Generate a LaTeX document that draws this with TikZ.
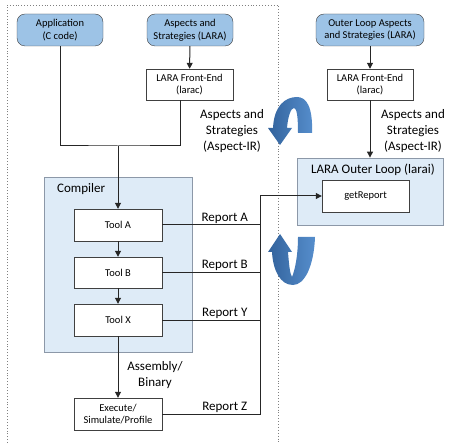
\documentclass[tikz,border=0pt]{standalone}
\usepackage{fontspec}
\setmainfont{Carlito}
\usetikzlibrary{arrows.meta,positioning,calc}
\definecolor{srcfill}{RGB}{157,195,230}
\definecolor{grpfill}{RGB}{222,235,247}
\definecolor{grpline}{RGB}{140,152,168}
\definecolor{loopdark}{RGB}{50,98,156}
\definecolor{looplight}{RGB}{86,142,204}
\newcommand{\boxfont}{\fontsize{10.5}{12.7}\selectfont}
\newcommand{\lblfont}{\fontsize{13}{16}\selectfont}
\tikzset{
  srcbox/.style={draw=black!75,fill=srcfill,rounded corners=8pt,minimum width=86pt,minimum height=32pt,align=center,font=\boxfont,inner sep=1pt},
  toolbox/.style={draw=black!75,fill=white,minimum width=88pt,minimum height=32pt,align=center,font=\boxfont,inner sep=1pt},
  grpbox/.style={draw=grpline,fill=grpfill,line width=0.8pt},
  lbl/.style={align=center,font=\lblfont,inner sep=1pt},
  wire/.style={line width=1pt,draw=black!85}
}
\begin{document}
\begin{tikzpicture}[x=1pt,y=-1pt,>={Triangle[length=6pt,width=6pt]}]
\useasboundingbox (0,0) rectangle (449,443);
% dotted frame round the compile flow
\draw[gray,dotted,line width=0.9pt] (7,443) -- (7,5) -- (278,5) -- (278,443);

% groups
\node[grpbox,minimum width=148pt,minimum height=175pt] (compiler) at (118,264.5) {};
\node[lbl,anchor=base west] at (56,193) {Compiler};
\node[grpbox,minimum width=146pt,minimum height=67pt] (outer) at (370,191.5) {};
\node[lbl,anchor=base] at (373,174) {LARA Outer Loop (larai)};

% inputs
\node[srcbox] (app) at (60,30) {Application\\(C code)};
\node[srcbox] (asp) at (190,30) {Aspects and\\Strategies (LARA)};
\node[srcbox,minimum width=108pt] (oasp) at (370,30) {Outer Loop Aspects\\and Strategies (LARA)};
\node[toolbox,minimum width=87pt,minimum height=31pt] (fe) at (189.5,84.5) {LARA Front-End\\(larac)};
\node[toolbox,minimum width=86pt,minimum height=31pt] (ofe) at (370,84.5) {LARA Front-End\\(larac)};

% tools
\node[toolbox] (toolA) at (118,225) {Tool A};
\node[toolbox,minimum height=31pt] (toolB) at (118,272.5) {Tool B};
\node[toolbox] (toolX) at (118,320) {Tool X};
\node[toolbox] (exec) at (118,414) {Execute/\\Simulate/Profile};
\node[toolbox,minimum width=87pt] (getrep) at (365.5,196) {getReport};

\coordinate (merge) at (118,146);
\coordinate (bus) at (260,196);

% connectors
\draw[wire,->] (asp) -- (fe);
\draw[wire] (app.south) |- (merge) -| ([xshift=-9.5pt]fe.south);
\draw[wire,->] (merge) -- (toolA);
\draw[wire,->] (toolA) -- (toolB);
\draw[wire,->] (toolB) -- (toolX);
\draw[wire,->] (toolX) -- (exec);
\draw[wire,->] (oasp) -- (ofe);
\draw[wire,->] (ofe) -- (outer);
\foreach \t/\r in {A/A,B/B,X/Y}
  \draw[wire] (tool\t.east) -- node[lbl,above,pos=.64] {Report \r} (tool\t.east -| bus);
\draw[wire,->] (exec.east) -- node[lbl,above,pos=.64] {Report Z} (exec.east -| bus) -- (bus) -- (getrep.west);

% labels
\node[lbl] (airl) at (232,131) {Aspects and\\Strategies\\(Aspect-IR)};
\node[lbl] (airr) at (413,131) {Aspects and\\Strategies\\(Aspect-IR)};
\node[lbl] (asm) at (155,375.5) {Assembly/\\Binary};

% loop arrows
\shade[left color=loopdark,right color=looplight]
  (312,133) .. controls (313,106) and (306,97) .. (297,97)
  .. controls (285,97) and (274,106) .. (273,128)
  -- (268,128) -- (280,145) -- (292,128) -- (287,128)
  .. controls (288,116) and (291,108) .. (294,108)
  .. controls (297,108) and (298,118) .. (298,133) -- cycle;
\shade[left color=loopdark,right color=looplight]
  (315,237) .. controls (314,265) and (305,285) .. (293,285)
  .. controls (280,285) and (273,270) .. (272,252)
  -- (268,252) -- (280,234) -- (292,252) -- (288,252)
  .. controls (289,265) and (290,274) .. (292,277)
  .. controls (295,270) and (298,255) .. (298,237) -- cycle;
\end{tikzpicture}
\end{document}
